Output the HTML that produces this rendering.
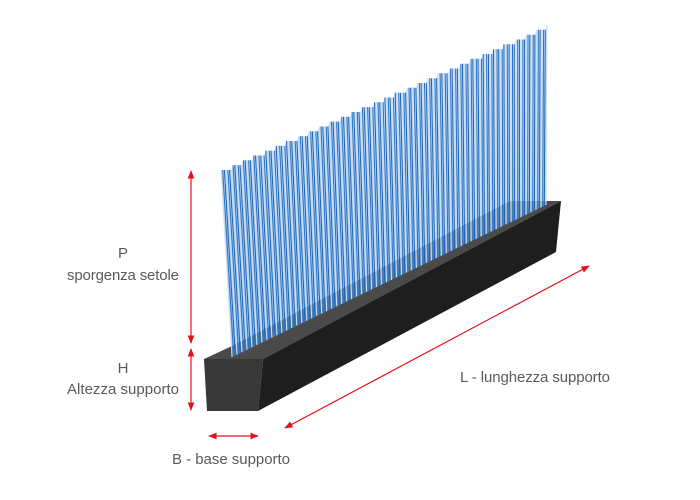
<!DOCTYPE html>
<html><head><style>
html,body{margin:0;padding:0;background:#fff;width:700px;height:500px;overflow:hidden}
text{font-family:"Liberation Sans",sans-serif;font-size:15px;fill:#5a5a5a}
</style></head><body>
<svg id="s" width="700" height="500" viewBox="0 0 700 500" xmlns="http://www.w3.org/2000/svg">
<defs>
<marker id="a" viewBox="0 0 10 10" refX="9" refY="5" markerWidth="7" markerHeight="7" orient="auto-start-reverse"><path d="M0,1 L10,5 L0,9 z" fill="#e3101e"/></marker>
<linearGradient id="fg" x1="0" y1="1" x2="0" y2="0"><stop offset="0" stop-color="#5f9ddf"/><stop offset="1" stop-color="#b5d1f0"/></linearGradient>
</defs>
<polygon points="204,359 263,359 561,201 510,201 232,346" fill="#4a4a4a"/>
<polygon id="haze" points="" fill="url(#fg)" opacity="0.6"/>
<g id="br"></g>
<polygon points="263,359 561,201 556,252 258,411" fill="#1e1e1e"/>
<polygon points="204,359 263,359 258,411 207,411" fill="#383838"/>
<g stroke="#e3101e" stroke-width="1.2" fill="none">
<line x1="191" y1="171" x2="191" y2="343" marker-start="url(#a)" marker-end="url(#a)"/>
<line x1="191" y1="349" x2="191" y2="410" marker-start="url(#a)" marker-end="url(#a)"/>
<line x1="209" y1="436" x2="258" y2="436" marker-start="url(#a)" marker-end="url(#a)"/>
<line x1="285" y1="428" x2="589" y2="266" marker-start="url(#a)" marker-end="url(#a)"/>
</g>
<text x="123" y="258" text-anchor="middle">P</text>
<text x="123" y="280" text-anchor="middle" textLength="112">sporgenza setole</text>
<text x="123" y="373" text-anchor="middle">H</text>
<text x="123" y="394" text-anchor="middle" textLength="112">Altezza supporto</text>
<text x="231" y="464" text-anchor="middle" textLength="118">B - base supporto</text>
<text x="460" y="382" textLength="150">L - lunghezza supporto</text>
</svg>
<script>
var g=document.getElementById('br'),N=190,h='',pts=['232,357'];
for(var i=0;i<N;i++){var t=i/(N-1);
var bx=232+t*(546-232), by=357-t*(357-205);
var steps=Math.floor(t*30)/30;
var tx=221+t*(547-221), ty=170-steps*(170-25);
pts.push(tx.toFixed(1)+','+ty.toFixed(1));
var c=(i%3==0)?'#cfe0f4':((i%3==1)?'#2a74c6':'#1a63b8');
h+='<line x1="'+bx.toFixed(1)+'" y1="'+by.toFixed(1)+'" x2="'+tx.toFixed(1)+'" y2="'+ty.toFixed(1)+'" stroke="'+c+'" stroke-width="1"/>';}
pts.push('546,205');
document.getElementById('haze').setAttribute('points',pts.join(' '));
g.innerHTML=h;
</script>
</body></html>
